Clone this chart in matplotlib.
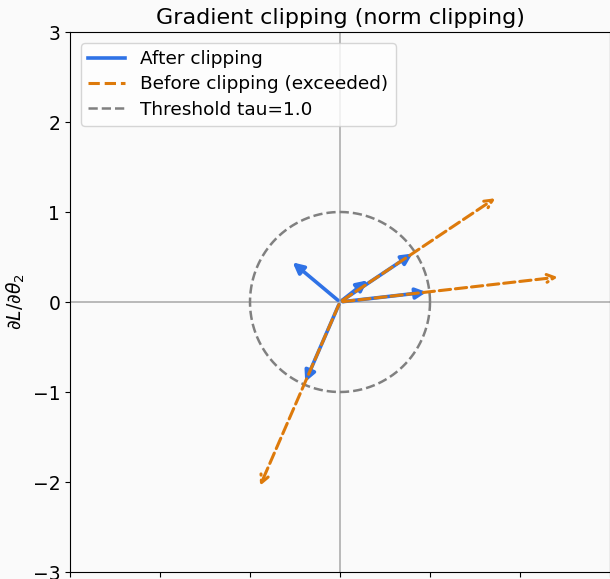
import numpy as np
import matplotlib
matplotlib.use("Agg")
import matplotlib.pyplot as plt

# raw gradients
grads_x = [0.33, -0.55, 1.75, 2.45, -0.90]
grads_y = [0.26, 0.46, 1.17, 0.28, -2.07]
tau = 1.0

BLUE = "#2f72e6"
ORANGE = "#dd7a0b"
BG = "#fafafa"

fig = plt.figure(figsize=(6.10, 5.79), dpi=100, facecolor=BG)
ax = fig.add_axes([70 / 610, 7 / 579, 540 / 610, 540 / 579])
ax.set_facecolor(BG)

ax.axhline(0, color="#b4b4b4", lw=1.3, zorder=0)
ax.axvline(0, color="#b4b4b4", lw=1.3, zorder=0)

# threshold circle
t = np.linspace(0, 2 * np.pi, 400)
ax.plot(tau * np.cos(t), tau * np.sin(t), ls="--", color="gray", lw=1.8)

for gx, gy in zip(grads_x, grads_y):
    n = np.hypot(gx, gy)
    s = min(1.0, tau / n)
    if n > tau:
        ax.annotate("", xy=(gx, gy), xytext=(0, 0),
                    arrowprops=dict(arrowstyle="->", color=ORANGE, lw=2.2,
                                    linestyle="--", mutation_scale=14))
    ax.annotate("", xy=(gx * s, gy * s), xytext=(0, 0),
                arrowprops=dict(arrowstyle="-|>", color=BLUE, lw=2.6,
                                mutation_scale=16), zorder=2)

# legend proxies
ax.plot([], [], color=BLUE, lw=2.6, label="After clipping")
ax.plot([], [], color=ORANGE, lw=2.2, ls="--", label="Before clipping (exceeded)")
ax.plot([], [], color="gray", lw=1.8, ls="--", label="Threshold tau=1.0")
ax.legend(loc="upper left", fontsize=13.3, labelspacing=0.38,
          borderaxespad=0.6)

ax.set_xlim(-3, 3)
ax.set_ylim(-3, 3)
ax.set_xticks(range(-3, 4))
ax.set_yticks(range(-3, 4))
ax.tick_params(labelsize=13.5, labelbottom=False)
ax.set_title("Gradient clipping (norm clipping)", fontsize=16)
ax.set_ylabel(r"$\partial L/\partial \theta_2$", fontsize=13.5)

fig.savefig("out.png", dpi=100, facecolor=BG)
